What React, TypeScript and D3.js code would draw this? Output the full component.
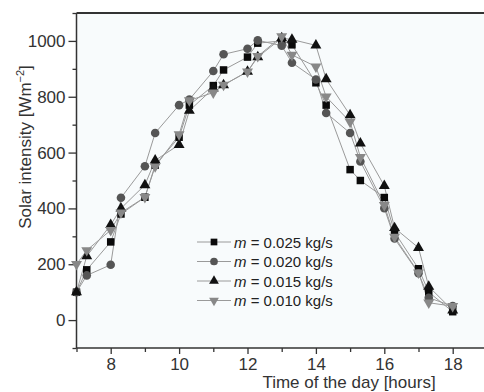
import { useEffect, useRef } from "react";
import * as d3 from "d3";

// hours of the day at which intensity was logged
const times = [7, 7.3, 8, 8.3, 9, 9.3, 10, 10.3, 11, 11.3, 12, 12.3, 13, 13.3, 14, 14.3, 15, 15.3, 16, 16.3, 17, 17.3, 18];

// solar intensity [W/m2] per mass flow rate
const m025 = [100, 180, 280, 380, 440, 555, 655, 770, 840, 896, 942, 992, 1000, 986, 850, 770, 539, 500, 439, 315, 184, 100, 30];
const m020 = [100, 160, 198, 438, 551, 670, 770, 790, 892, 952, 972, 1002, 983, 922, 862, 742, 670, 568, 401, 292, 168, 80, 50];
const m015 = [100, 229, 341, 400, 484, 572, 628, 750, 830, 842, 890, 942, 1010, 1005, 984, 863, 734, 633, 481, 330, 259, 120, 35];
const m010 = [200, 250, 322, 385, 440, 550, 665, 787, 815, 842, 890, 945, 1016, 950, 908, 800, 710, 584, 412, 298, 170, 62, 50];

const seriesLabels = ["0.025 kg/s", "0.020 kg/s", "0.015 kg/s", "0.010 kg/s"];

const xMajor = [8, 10, 12, 14, 16, 18];
const xMinor = [7, 9, 11, 13, 15, 17, 19];
const yMajor = [0, 200, 400, 600, 800, 1000];
const yMinor = [-100, 100, 300, 500, 700, 900, 1100];

export default function App() {
    const ref = useRef<SVGSVGElement | null>(null);

    useEffect(() => {
        const width = 484;
        const height = 392;
        const left = 76.5, top = 13, bottom = 348;

        const x = d3.scaleLinear([7, 18], [left, 452.7]);
        const y = d3.scaleLinear([-100, 1100], [bottom, top]);

        const svg = d3.select(ref.current);
        svg.selectAll("*").remove();
        svg.attr("width", width).attr("height", height);

        // plot area background
        svg.append("rect")
            .attr("x", left).attr("y", top)
            .attr("width", width - left).attr("height", bottom - top)
            .attr("fill", "#f8fbfc");

        const font = "Liberation Sans, Arial, sans-serif";

        //axes
        const yAxis = svg.append("g").attr("transform", `translate(${left},0)`);
        yAxis.call(d3.axisLeft(y).tickValues(yMajor).tickSize(8).tickPadding(3).tickFormat(d3.format("d")));
        yAxis.append("g").call(d3.axisLeft(y).tickValues(yMinor).tickSize(4).tickFormat(() => ""));

        const xAxis = svg.append("g").attr("transform", `translate(0,${bottom})`);
        xAxis.call(d3.axisBottom(x).tickValues(xMajor).tickSize(6).tickPadding(4));
        xAxis.append("g").call(d3.axisBottom(x).tickValues(xMinor).tickSize(4).tickFormat(() => ""));

        svg.selectAll(".domain").remove();
        svg.selectAll(".tick line").attr("stroke", "#333").attr("stroke-width", 1.3);
        svg.selectAll(".tick text")
            .attr("fill", "#333")
            .style("font-family", font)
            .style("font-size", "17px");

        // frame lines (left, bottom, top)
        svg.append("line").attr("x1", left).attr("x2", left).attr("y1", top).attr("y2", bottom)
            .attr("stroke", "#333").attr("stroke-width", 1.5);
        svg.append("line").attr("x1", left).attr("x2", width).attr("y1", bottom).attr("y2", bottom)
            .attr("stroke", "#333").attr("stroke-width", 1.5);
        svg.append("line").attr("x1", left).attr("x2", width).attr("y1", top).attr("y2", top)
            .attr("stroke", "#333").attr("stroke-width", 2);

        const series = [
            { values: m025, symbol: d3.symbolSquare, size: 56, rot: 0, color: "#0a0a0a" },
            { values: m020, symbol: d3.symbolCircle, size: 58, rot: 0, color: "#555" },
            { values: m015, symbol: d3.symbolTriangle, size: 52, rot: 0, color: "#111" },
            { values: m010, symbol: d3.symbolTriangle, size: 52, rot: 180, color: "#888" },
        ];

        const line = d3.line<number>()
            .x((d, i) => x(times[i]))
            .y(d => y(d));

        series.forEach(s => {
            svg.append("path")
                .datum(s.values)
                .attr("fill", "none")
                .attr("stroke", "#9a9a9a")
                .attr("stroke-width", 1)
                .attr("d", line);
        });

        series.forEach(s => {
            svg.append("g")
                .selectAll("path")
                .data(s.values)
                .join("path")
                .attr("d", d3.symbol(s.symbol, s.size)())
                .attr("transform", (d, i) => `translate(${x(times[i])},${y(d)}) rotate(${s.rot})`)
                .attr("fill", s.color);
        });

        // legend
        const legend = svg.append("g");
        series.forEach((s, i) => {
            const ly = 242 + i * 19.5;
            legend.append("line")
                .attr("x1", 197).attr("x2", 231).attr("y1", ly).attr("y2", ly)
                .attr("stroke", "#9a9a9a").attr("stroke-width", 1);
            legend.append("path")
                .attr("d", d3.symbol(s.symbol, s.size * 0.8)())
                .attr("transform", `translate(214,${ly}) rotate(${s.rot})`)
                .attr("fill", s.color);
            const t = legend.append("text")
                .attr("x", 234).attr("y", ly + 5.5)
                .attr("fill", "#222")
                .style("font-family", font)
                .style("font-size", "15px");
            t.append("tspan").style("font-style", "italic").text("m");
            t.append("tspan").text(" = " + seriesLabels[i]);
        });

        //axis titles
        const yt = svg.append("text")
            .attr("transform", "rotate(-90)")
            .attr("x", -147)
            .attr("y", 31)
            .attr("text-anchor", "middle")
            .attr("fill", "#333")
            .style("font-family", font)
            .style("font-size", "17px");
        yt.append("tspan").text("Solar intensity [Wm");
        yt.append("tspan").attr("dy", -7).style("font-size", "11px").text("−2");
        yt.append("tspan").attr("dy", 7).text("]");

        svg.append("text")
            .attr("x", 349)
            .attr("y", 388)
            .attr("text-anchor", "middle")
            .attr("fill", "#333")
            .style("font-family", font)
            .style("font-size", "17px")
            .text("Time of the day [hours]");
    }, []);

    return (
        <svg ref={ref} style={{ position: "absolute", left: 0, top: 0 }} />
    );
}
